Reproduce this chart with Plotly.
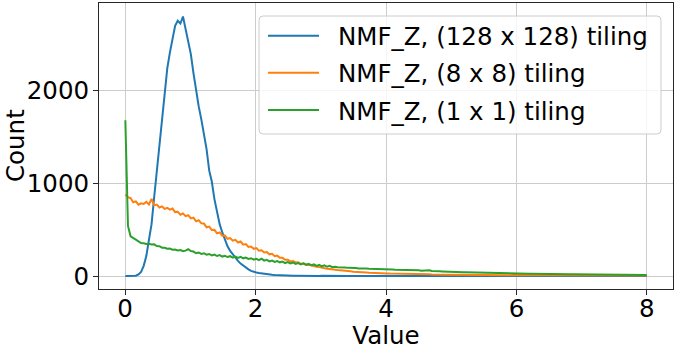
import numpy as np
import plotly.graph_objects as go

# bin centres of the histogram (200 bins across 0..8)
values_x = np.linspace(0.004, 7.996, 200)

labels = ["NMF_Z, (128 x 128) tiling", "NMF_Z, (8 x 8) tiling", "NMF_Z, (1 x 1) tiling"]
colors = ["#1f77b4", "#ff7f0e", "#2ca02c"]

count_128 = [
    0, 0, 0, 1, 4, 18, 45, 110, 215, 390,
    560, 850, 1130, 1420, 1760, 2030, 2240, 2410, 2560, 2700,
    2755, 2725, 2800, 2660, 2530, 2395, 2190, 2000, 1830, 1690,
    1530, 1370, 1140, 1020, 830, 700, 560, 470, 390, 320,
    272, 236, 192, 163, 134, 110, 90, 72, 56, 45,
    38, 32, 27, 22, 19, 16, 13, 11, 9, 8,
    7, 6, 5, 5, 4, 4, 3, 3, 3, 2,
    2, 2, 2, 2, 1, 2, 1, 1, 1, 1,
    1, 1, 1, 1, 1, 0, 1, 0, 1, 0,
    0, 1, 0, 0, 1, 0, 0, 0, 1, 0,
    0, 0, 0, 1, 0, 0, 0, 0, 0, 0,
    0, 0, 1, 0, 0, 0, 0, 0, 0, 0,
    0, 0, 0, 0, 0, 0, 1, 0, 0, 0,
    0, 0, 0, 0, 0, 0, 0, 0, 0, 0,
    0, 0, 0, 0, 0, 0, 0, 0, 0, 0,
    0, 0, 0, 0, 0, 0, 0, 0, 0, 0,
    0, 0, 0, 0, 0, 0, 0, 0, 0, 0,
    0, 0, 0, 0, 0, 0, 0, 0, 0, 0,
    0, 0, 0, 0, 0, 0, 0, 0, 0, 0,
    0, 0, 0, 0, 0, 0, 0, 0, 0, 0,
]

count_8 = [
    880, 850, 842, 796, 806, 770, 784, 778, 800, 772,
    832, 762, 770, 740, 752, 724, 736, 716, 728, 690,
    694, 662, 676, 646, 656, 622, 630, 590, 602, 568,
    566, 526, 534, 496, 498, 460, 470, 436, 438, 402,
    410, 382, 390, 362, 372, 338, 344, 314, 318, 294,
    302, 274, 278, 254, 258, 234, 240, 214, 220, 196,
    196, 176, 176, 158, 162, 146, 148, 132, 134, 120,
    121, 112, 109, 99, 96, 89, 86, 79, 77, 71,
    69, 64, 63, 58, 57, 52, 51, 47, 47, 43,
    43, 39, 39, 35, 35, 31, 31, 29, 29, 27,
    28, 26, 26, 24, 25, 23, 24, 22, 22, 21,
    21, 20, 20, 19, 19, 18, 18, 17, 18, 16,
    16, 16, 15, 15, 15, 14, 14, 14, 13, 14,
    13, 13, 12, 13, 12, 12, 11, 12, 11, 11,
    11, 10, 11, 10, 10, 10, 10, 9, 10, 9,
    9, 9, 9, 9, 8, 9, 8, 8, 8, 8,
    8, 8, 7, 8, 7, 8, 7, 7, 7, 7,
    7, 7, 7, 6, 7, 7, 6, 7, 6, 7,
    7, 6, 6, 7, 6, 6, 6, 6, 6, 6,
    6, 6, 6, 5, 6, 6, 5, 6, 6, 6,
]

count_1 = [
    1680, 540, 428, 414, 392, 374, 356, 354, 346, 348,
    340, 342, 324, 322, 306, 304, 294, 296, 284, 286,
    276, 280, 268, 274, 290, 270, 264, 246, 254, 238,
    246, 230, 238, 223, 232, 216, 225, 210, 219, 205,
    214, 199, 209, 195, 206, 191, 199, 184, 192, 177,
    186, 172, 188, 166, 174, 158, 167, 152, 162, 148,
    156, 140, 150, 136, 146, 131, 140, 126, 136, 122,
    131, 116, 125, 110, 120, 105, 115, 100, 109, 95,
    100, 95, 96, 91, 92, 88, 89, 85, 86, 82,
    83, 80, 81, 78, 78, 76, 77, 74, 74, 72,
    71, 70, 70, 68, 68, 66, 67, 64, 65, 64,
    62, 60, 61, 58, 59, 57, 63, 55, 56, 52,
    51, 50, 50, 48, 48, 46, 46, 44, 45, 42,
    41, 40, 40, 38, 39, 37, 37, 35, 35, 34,
    33, 32, 33, 31, 31, 30, 30, 29, 29, 28,
    27, 27, 26, 26, 25, 25, 24, 24, 23, 23,
    22, 22, 21, 21, 21, 20, 20, 19, 19, 19,
    18, 18, 18, 17, 17, 17, 16, 16, 16, 15,
    15, 15, 15, 14, 14, 14, 14, 13, 13, 13,
    12, 12, 12, 12, 11, 11, 11, 11, 10, 10,
]

x_ticks = [0, 2, 4, 6, 8]
y_ticks = [0, 1000, 2000]

FONT = "DejaVu Sans"
FS = 24.5
W, H = 677, 350
ML, MR, MT, MB = 99, 4, 3, 61
PW, PH = W - ML - MR, H - MT - MB


def px(xp):
    return (xp - ML) / PW


def py(yp):
    return 1 - (yp - MT) / PH


fig = go.Figure()
for i, (lab, ys) in enumerate(zip(labels, [count_128, count_8, count_1])):
    fig.add_trace(go.Scatter(
        x=values_x, y=ys, mode="lines", name=lab,
        line=dict(color=colors[i], width=2), showlegend=False,
    ))

axis_common = dict(
    showline=True, mirror=True, linecolor="#262626", linewidth=1,
    ticks="outside", ticklen=5, tickwidth=1, tickcolor="#262626",
    showgrid=True, gridcolor="#cccccc", gridwidth=1, zeroline=False,
    tickfont=dict(family=FONT, size=FS, color="black"), automargin=False,
)

# legend drawn as box + sample lines + texts (matplotlib-style)
x0, x1, y0, y1, r = 259, 661, 16, 134, 4
path = (f"M {px(x0 + r)},{py(y0)} L {px(x1 - r)},{py(y0)} Q {px(x1)},{py(y0)} {px(x1)},{py(y0 + r)} "
        f"L {px(x1)},{py(y1 - r)} Q {px(x1)},{py(y1)} {px(x1 - r)},{py(y1)} "
        f"L {px(x0 + r)},{py(y1)} Q {px(x0)},{py(y1)} {px(x0)},{py(y1 - r)} "
        f"L {px(x0)},{py(y0 + r)} Q {px(x0)},{py(y0)} {px(x0 + r)},{py(y0)} Z")
shapes = [dict(type="path", path=path, xref="paper", yref="paper", layer="above",
               fillcolor="rgba(255,255,255,0.8)", line=dict(color="#cccccc", width=1))]
annotations = []
rows = [35.7, 72.7, 110]
for i, lab in enumerate(labels):
    shapes.append(dict(type="line", xref="paper", yref="paper", layer="above",
                       x0=px(268), x1=px(319), y0=py(rows[i]), y1=py(rows[i]),
                       line=dict(color=colors[i], width=2)))
    annotations.append(dict(text=lab, xref="paper", yref="paper", x=px(336), y=py(rows[i] + 1),
                            xanchor="left", yanchor="middle", showarrow=False,
                            font=dict(family=FONT, size=FS, color="black")))
annotations.append(dict(text="Count", xref="paper", yref="paper", x=px(15), y=0.5,
                        textangle=-90, xanchor="center", yanchor="middle", showarrow=False,
                        font=dict(family=FONT, size=FS, color="black")))

fig.update_layout(
    width=W, height=H,
    margin=dict(l=ML, r=MR, t=MT, b=MB),
    paper_bgcolor="white", plot_bgcolor="white",
    font=dict(family=FONT, size=FS, color="black"),
    xaxis=dict(range=[-0.4, 8.4], tickvals=x_ticks, ticklabelstandoff=-7,
               title=dict(text="Value", font=dict(family=FONT, size=FS), standoff=2),
               **axis_common),
    yaxis=dict(range=[-140, 2946], tickvals=y_ticks, ticklabelstandoff=-1, **axis_common),
    shapes=shapes, annotations=annotations,
    showlegend=False,
)
fig.write_html("out.html", config={"displayModeBar": False},
               post_script="document.body.style.margin='0px';")
